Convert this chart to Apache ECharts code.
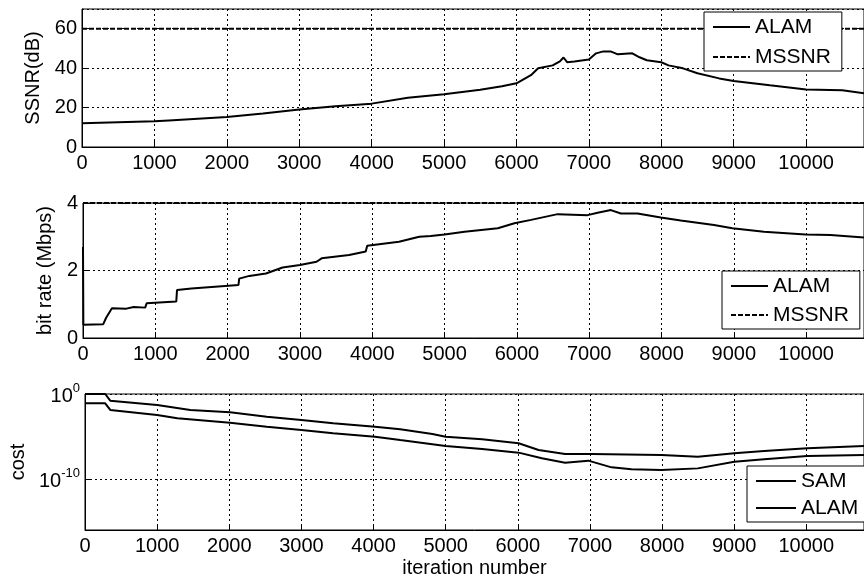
<!DOCTYPE html>
<html>
<head>
<meta charset="utf-8">
<script src="https://cdn.jsdelivr.net/npm/echarts@6/dist/echarts.min.js"></script>
<style>
  html, body { margin: 0; padding: 0; background: #fff; }
  #chart { width: 864px; height: 582px; }
</style>
</head>
<body>
<div id="chart"></div>
<script>
const xMax = 10800

// SSNR (dB) panel
const ssnrIter = [0, 1000, 1200, 2000, 2500, 3000, 3500, 4000, 4500, 5000, 5500, 5800, 6000, 6200, 6300, 6500, 6600, 6650, 6700, 6800, 7000, 7100, 7200, 7300, 7400, 7600, 7700, 7800, 8000, 8100, 8300, 8500, 8800, 9000, 9500, 10000, 10500, 10800]
const ssnrAlam = [12.1, 13, 13.5, 15.2, 17, 19, 20.7, 22, 25, 26.7, 29, 30.8, 32.3, 36.4, 39.9, 41.4, 43.4, 45.4, 43, 43.4, 44.4, 47.5, 48.5, 48.5, 47, 47.5, 45.5, 44, 43, 41.4, 39.9, 37.4, 34.8, 33.5, 31.3, 29.2, 28.8, 27.3]
const ssnrMssnr = 60

// bit rate (Mbps) panel
const rateIter = [0, 5, 280, 320, 400, 600, 700, 860, 880, 1290, 1300, 1500, 2150, 2160, 2300, 2530, 2760, 3000, 3230, 3300, 3680, 3910, 3930, 4370, 4650, 4810, 5000, 5276, 5736, 5966, 6196, 6564, 6978, 7116, 7300, 7438, 7668, 7990, 8266, 8726, 8979, 9416, 9991, 10336, 10800]
const rateAlam = [2.7, 0.39, 0.41, 0.6, 0.88, 0.87, 0.92, 0.9, 1.03, 1.08, 1.42, 1.47, 1.57, 1.76, 1.84, 1.91, 2.09, 2.16, 2.26, 2.36, 2.46, 2.56, 2.73, 2.85, 3.0, 3.02, 3.07, 3.15, 3.25, 3.4, 3.5, 3.67, 3.64, 3.71, 3.79, 3.69, 3.69, 3.57, 3.48, 3.35, 3.25, 3.15, 3.07, 3.05, 2.98]
const rateMssnr = 4

// cost panel, stored as powers of ten
const samIter = [0, 280, 350, 1000, 1460, 2010, 2520, 3000, 3440, 4020, 4370, 4816, 5000, 5506, 6012, 6288, 6656, 7024, 7990, 8496, 9002, 9416, 10014, 10800]
const samExp = [0, 0, -0.78, -1.29, -1.88, -2.16, -2.67, -3.06, -3.45, -3.84, -4.16, -4.7, -5.02, -5.33, -5.8, -6.59, -7.06, -7.06, -7.18, -7.37, -6.98, -6.71, -6.39, -6.12]
const alamIter = [0, 280, 350, 1000, 1280, 2010, 2520, 3000, 3440, 4020, 4370, 4816, 5000, 5506, 6012, 6334, 6656, 6978, 7300, 7576, 7990, 8496, 9002, 9416, 10014, 10800]
const alamExp = [-1.1, -1.1, -1.88, -2.47, -2.86, -3.37, -3.84, -4.24, -4.63, -5.02, -5.41, -5.9, -6.12, -6.47, -6.9, -7.57, -8.08, -7.84, -8.63, -8.86, -8.94, -8.75, -7.96, -7.69, -7.29, -7.18]
const costTicks = [1e-10, 1]

const font = 'Liberation Sans, Arial, sans-serif'
const black = '#000'
const gridLine = { show: true, lineStyle: { color: black, width: 1, type: [2, 3] } }
const tick = { show: true, inside: true, length: 6, lineStyle: { color: black } }
const axisLine = { show: true, lineStyle: { color: black, width: 1 } }
const lbl = { color: black, fontSize: 20, fontFamily: font }
const plain = (v) => String(v)

const pairs = (xs, ys) => xs.map((x, i) => [x, ys[i]])
const flat = (v) => [[0, v], [xMax, v]]
const pow10 = (xs, es) => xs.map((x, i) => [x, Math.pow(10, es[i])])

const xAxisFor = (gridIndex, extra) => Object.assign({
  type: 'value', gridIndex, min: 0, max: xMax, interval: 1000,
  axisLine, axisTick: tick, splitLine: gridLine,
  axisLabel: Object.assign({ margin: 6, showMaxLabel: false, formatter: plain }, lbl),
}, extra || {})

const legendFor = (names, left, top, gap, iconW) => ({
  data: names, orient: 'vertical', left, top,
  itemWidth: iconW, itemHeight: 14, itemGap: gap,
  padding: [4, 11, 3, 8],
  backgroundColor: '#fff', borderColor: black, borderWidth: 1, borderRadius: 0,
  selectedMode: false,
  itemStyle: { opacity: 0 },
  textStyle: { color: black, fontSize: 21, fontFamily: font, lineHeight: 22 },
})

const solid = { color: black, width: 2 }
const dashed = { color: black, width: 2, type: [5, 2] }
const line = (name, idx, data, style) => ({
  name, type: 'line', xAxisIndex: idx, yAxisIndex: idx, data,
  showSymbol: false, symbol: 'none', lineStyle: style, itemStyle: { color: black },
})

const chart = echarts.init(document.getElementById('chart'))
chart.setOption({
  animation: false,
  backgroundColor: '#fff',
  textStyle: { fontFamily: font },
  grid: [
    { left: 82, top: 9, width: 783, height: 138, show: true, borderColor: black, borderWidth: 1 },
    { left: 83, top: 203, width: 783, height: 135, show: true, borderColor: black, borderWidth: 1 },
    { left: 85, top: 394, width: 783, height: 136, show: true, borderColor: black, borderWidth: 1 },
  ],
  xAxis: [
    xAxisFor(0),
    xAxisFor(1),
    xAxisFor(2, {
      name: 'iteration number', nameLocation: 'middle', nameGap: 28,
      nameTextStyle: lbl,
    }),
  ],
  yAxis: [
    {
      type: 'value', gridIndex: 0, min: 0, max: 70, interval: 20,
      name: 'SSNR(dB)', nameLocation: 'middle', nameGap: 32, nameTextStyle: lbl,
      axisLine, axisTick: tick, splitLine: gridLine,
      axisLabel: Object.assign({ margin: 5, showMaxLabel: false }, lbl),
    },
    {
      type: 'value', gridIndex: 1, min: 0, max: 4, interval: 2,
      name: 'bit rate (Mbps)', nameLocation: 'middle', nameGap: 17, nameTextStyle: lbl,
      axisLine, axisTick: tick, splitLine: gridLine,
      axisLabel: Object.assign({ margin: 5 }, lbl),
    },
    {
      type: 'log', logBase: 10, gridIndex: 2, min: 1e-16, max: 1,
      name: 'cost', nameLocation: 'middle', nameGap: 54, nameTextStyle: lbl,
      axisLine,
      axisTick: Object.assign({ customValues: costTicks }, tick),
      splitLine: gridLine,
      axisLabel: Object.assign({
        margin: 5,
        customValues: costTicks,
        formatter: (v) => '{b|10}{sup|' + Math.round(Math.log10(v)) + '}',
        rich: {
          b: { fontSize: 20, fontFamily: font, color: black, verticalAlign: 'bottom' },
          sup: { fontSize: 13, fontFamily: font, color: black, verticalAlign: 'bottom', padding: [0, 0, 12, 0] },
        },
      }, lbl),
    },
  ],
  legend: [
    legendFor(['ALAM', 'MSSNR'], 704, 12, 8, 37),
    legendFor(['ALAM', 'MSSNR'], 722, 271, 7, 37),
    legendFor(['SAM', 'ALAM'], 747, 466, 5, 40),
  ],
  series: [
    line('ALAM', 0, pairs(ssnrIter, ssnrAlam), solid),
    line('MSSNR', 0, flat(ssnrMssnr), dashed),
    line('ALAM', 1, pairs(rateIter, rateAlam), solid),
    line('MSSNR', 1, flat(rateMssnr), dashed),
    line('SAM', 2, pow10(samIter, samExp), solid),
    line('ALAM', 2, pow10(alamIter, alamExp), solid),
  ],
})
</script>
</body>
</html>
